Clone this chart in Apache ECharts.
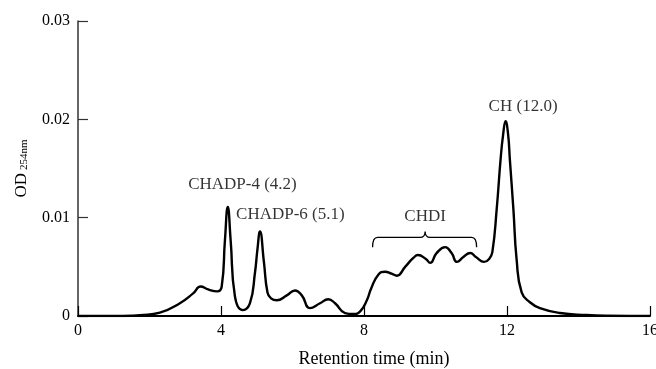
<!DOCTYPE html>
<html>
<head>
<meta charset="utf-8">
<script src="https://cdn.jsdelivr.net/npm/echarts@6/dist/echarts.min.js"></script>
<style>
  html, body { margin: 0; padding: 0; background: #fff; }
  #chart { width: 656px; height: 369px; }
</style>
</head>
<body>
<div id="chart"></div>
<script>
// retention time (min) and OD254 readings
const retentionTime = [
  0, 1.0, 1.5, 1.73, 2.29, 2.85, 3.22, 3.43, 3.64, 3.89, 4.02, 4.11, 4.19, 4.27, 4.39,
  4.61, 4.81, 4.95, 5.02, 5.09, 5.20, 5.30, 5.40, 5.56, 5.84, 6.07, 6.26, 6.49, 6.77,
  7.00, 7.19, 7.47, 7.70, 7.90, 8.08, 8.20, 8.40, 8.59, 8.77, 8.92, 9.15, 9.38, 9.51,
  9.73, 9.85, 10.03, 10.27, 10.45, 10.60, 10.78, 10.97, 11.13, 11.36, 11.50, 11.59,
  11.71, 11.82, 11.89, 11.96, 12.03, 12.08, 12.18, 12.27, 12.41, 12.64, 12.92, 13.48,
  14.23, 14.8, 16
]
const od254 = [
  0, 0, 0.00002, 0.00007, 0.00034, 0.0013, 0.0023, 0.0030, 0.0027, 0.0025, 0.0030, 0.0077, 0.0111, 0.0077, 0.0020,
  0.0006, 0.0013, 0.0044, 0.0068, 0.0086, 0.0055, 0.0024, 0.0018, 0.0016, 0.0021, 0.0026, 0.0021, 0.0008, 0.0013,
  0.0017, 0.0013, 0.0003, 0.0002, 0.0005, 0.0016, 0.0028, 0.0042, 0.0045, 0.0043, 0.0041, 0.0050, 0.0059, 0.0062,
  0.0058, 0.0054, 0.0064, 0.0070, 0.0064, 0.0055, 0.0060, 0.0064, 0.0060, 0.0055, 0.0058, 0.0065,
  0.0108, 0.0159, 0.0184, 0.0198, 0.0185, 0.0159, 0.0108, 0.0057, 0.0024, 0.0014, 0.0008, 0.0003,
  0.0001, 0.00003, 0
]

// peak annotations: [x, y, text]
const peakLabels = [
  [4.60, 0.01335, "CHADP-4 (4.2)"],
  [5.94, 0.01030, "CHADP-6 (5.1)"],
  [9.71, 0.01010, "CHDI"],
  [12.45, 0.02130, "CH (12.0)"]
]
// brace over the CHDI group: [start, end, tip, bar level, end level, tip level]
const braceSpan = [[8.24, 11.15, 9.71, 0.0080, 0.0070, 0.0086]]

const xTicks = [0, 16, 4]
const yTicks = [0, 0.03, 0.01]

const serif = "'Liberation Serif', 'DejaVu Serif', serif"
const chart = echarts.init(document.getElementById("chart"), null, { renderer: "canvas" })

chart.setOption({
  animation: false,
  textStyle: { fontFamily: serif },
  grid: { left: 78, right: 6, top: 21, bottom: 53, outerBoundsMode: "none", containLabel: false },
  xAxis: {
    type: "value",
    min: xTicks[0],
    max: xTicks[1],
    interval: xTicks[2],
    name: "Retention time (min)",
    nameLocation: "middle",
    nameGap: 34,
    nameTextStyle: { fontFamily: serif, fontSize: 18, color: "#000", padding: [0, 0, 0, 20] },
    axisLine: { onZero: false, lineStyle: { color: "#000", width: 2 } },
    axisTick: { inside: true, length: 10, lineStyle: { color: "#000", width: 1.2 } },
    axisLabel: { margin: 7, fontFamily: serif, fontSize: 16, color: "#000" },
    splitLine: { show: false },
  },
  yAxis: {
    type: "value",
    min: yTicks[0],
    max: yTicks[1],
    interval: yTicks[2],
    name: "{a|OD} {b|254nm}",
    nameLocation: "middle",
    nameRotate: 90,
    nameGap: 48,
    nameTextStyle: {
      rich: {
        a: { fontFamily: serif, fontSize: 17, color: "#000", verticalAlign: "bottom", lineHeight: 18 },
        b: { fontFamily: serif, fontSize: 11, color: "#000", verticalAlign: "bottom", lineHeight: 18 },
      },
    },
    axisLine: { lineStyle: { color: "#333", width: 1.5 } },
    axisTick: { inside: true, length: 10, lineStyle: { color: "#333", width: 1.2 } },
    axisLabel: {
      margin: 8,
      fontFamily: serif,
      fontSize: 16,
      color: "#000",
      formatter: (v) => (v === 0 ? "0" : v.toFixed(2)),
    },
    splitLine: { show: false },
  },
  series: [
    {
      type: "line",
      data: retentionTime.map((t, i) => [t, od254[i]]),
      smooth: 0.5,
      symbol: "none",
      lineStyle: { color: "#000", width: 2.4 },
      z: 3,
    },
    {
      type: "scatter",
      data: peakLabels.map((d) => ({ value: [d[0], d[1]], name: d[2] })),
      symbolSize: 0,
      silent: true,
      label: {
        show: true,
        position: "inside",
        formatter: (p) => p.name,
        fontFamily: serif,
        fontSize: 17,
        color: "#000",
      },
    },
    {
      type: "custom",
      silent: true,
      data: braceSpan,
      renderItem: (params, api) => {
        const l = api.coord([api.value(0), api.value(4)])
        const r = api.coord([api.value(1), api.value(4)])
        const m = api.coord([api.value(2), api.value(5)])
        const by = api.coord([api.value(0), api.value(3)])[1]
        const rr = 5
        const d =
          `M${l[0]},${l[1]} Q${l[0]},${by} ${l[0] + rr},${by} ` +
          `L${m[0] - rr},${by} Q${m[0]},${by} ${m[0]},${m[1]} ` +
          `Q${m[0]},${by} ${m[0] + rr},${by} L${r[0] - rr},${by} ` +
          `Q${r[0]},${by} ${r[0]},${r[1]}`
        return {
          type: "path",
          shape: { pathData: d },
          style: { fill: null, stroke: "#000", lineWidth: 1.3 },
        }
      },
    },
  ],
})
</script>
</body>
</html>
